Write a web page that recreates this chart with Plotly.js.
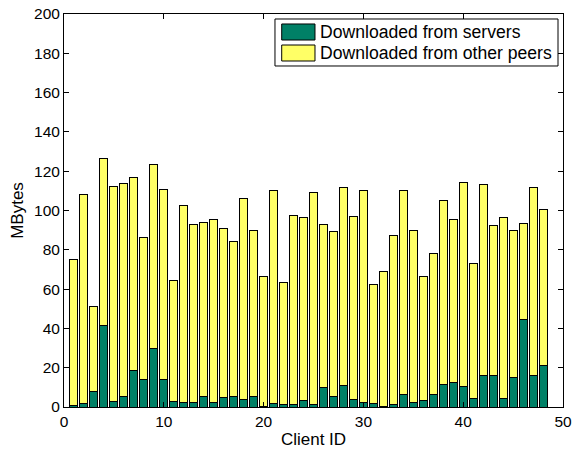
<!DOCTYPE html>
<html>
<head>
<meta charset="utf-8">
<script src="https://cdn.plot.ly/plotly-3.0.1.min.js"></script>
<style>html,body{margin:0;padding:0;background:#fff;}#chart{width:573px;height:454px;}</style>
</head>
<body>
<div id="chart"></div>
<script>
const clientIds = [1,2,3,4,5,6,7,8,9,10,11,12,13,14,15,16,17,18,19,20,21,22,23,24,25,26,27,28,29,30,31,32,33,34,35,36,37,38,39,40,41,42,43,44,45,46,47,48];
const fromServers = [0.9,1.7,8.0,41.5,2.9,5.4,18.7,14.1,30.0,14.0,2.7,2.2,2.2,5.1,2.2,4.6,5.6,3.6,5.6,0.5,1.7,1.2,1.4,3.4,1.4,9.9,5.4,10.7,3.9,2.2,1.9,0.3,1.2,6.3,2.4,3.4,6.3,11.6,12.6,10.2,4.1,15.8,16.2,4.3,15.1,44.3,16.0,21.1];
const fromPeers = [74.3,106.2,43.1,84.8,109.1,108.1,98.2,72.4,93.6,96.5,61.6,100.6,90.6,88.9,93.3,86.3,78.8,102.3,84.4,65.7,108.4,62.3,96.3,92.9,108.0,83.0,84.0,101.1,92.8,107.9,60.6,68.5,86.3,103.7,87.5,62.8,71.7,93.4,82.9,103.8,69.1,97.2,76.4,92.0,74.6,49.3,95.7,79.3];
const seriesNames = ['Downloaded from servers', 'Downloaded from other peers'];
const seriesColors = ['#008066', '#ffff66'];
const xTicks = [0,10,20,30,40,50];
const yTicks = [0,20,40,60,80,100,120,140,160,180,200];

const font = 'Liberation Sans, Arial, Helvetica, sans-serif';
const traces = [
  {type:'bar', x:clientIds, y:fromServers, name:seriesNames[0], width:0.8, showlegend:false,
   marker:{color:seriesColors[0], line:{color:'#000', width:1}}},
  {type:'bar', x:clientIds, y:fromPeers, name:seriesNames[1], width:0.8, showlegend:false,
   marker:{color:seriesColors[1], line:{color:'#000', width:1}}}
];
const axisCommon = {
  showline:true, linecolor:'#000', linewidth:1, mirror:'ticks',
  ticks:'inside', ticklen:5, tickcolor:'#000', showgrid:false, zeroline:false,
  tickfont:{family:font, size:15.5, color:'#000'}
};

// Legend box (MATLAB style) drawn in paper coordinates
const legBox = {x0:0.4228, x1:0.9900, y0:0.8677, y1:0.9873};
const swX = [0.4363, 0.5030];
const swY = [[0.9338, 0.9746], [0.8804, 0.9211]];
const textX = 0.5090;
const textY = [0.9542, 0.9008];

const shapes = [
  {type:'rect', xref:'paper', yref:'paper', x0:legBox.x0, x1:legBox.x1, y0:legBox.y0, y1:legBox.y1,
   line:{color:'#000', width:1}, fillcolor:'#fff', layer:'above'}
];
const annotations = [];
seriesNames.forEach((nm, i) => {
  shapes.push({type:'rect', xref:'paper', yref:'paper', x0:swX[0], x1:swX[1], y0:swY[i][0], y1:swY[i][1],
    line:{color:'#000', width:1}, fillcolor:seriesColors[i], layer:'above'});
  annotations.push({xref:'paper', yref:'paper', x:textX, y:textY[i], xanchor:'left', yanchor:'middle',
    text:nm, showarrow:false, font:{family:font, size:17.6, color:'#000'}});
});

const layout = {
  width:573, height:454,
  margin:{l:64, r:10, t:14, b:47},
  paper_bgcolor:'#fff', plot_bgcolor:'#fff',
  barmode:'stack',
  font:{family:font, color:'#000'},
  showlegend:false,
  xaxis:Object.assign({}, axisCommon, {range:[0,50], tickvals:xTicks, ticktext:xTicks.map(String),
    title:{text:'Client ID', font:{family:font, size:17, color:'#000'}, standoff:4}}),
  yaxis:Object.assign({}, axisCommon, {range:[0,200], tickvals:yTicks, ticktext:yTicks.map(String),
    title:{text:'MBytes', font:{family:font, size:17, color:'#000'}, standoff:6}}),
  shapes:shapes,
  annotations:annotations
};
Plotly.newPlot('chart', traces, layout, {displayModeBar:false, staticPlot:true});
</script>
</body>
</html>
